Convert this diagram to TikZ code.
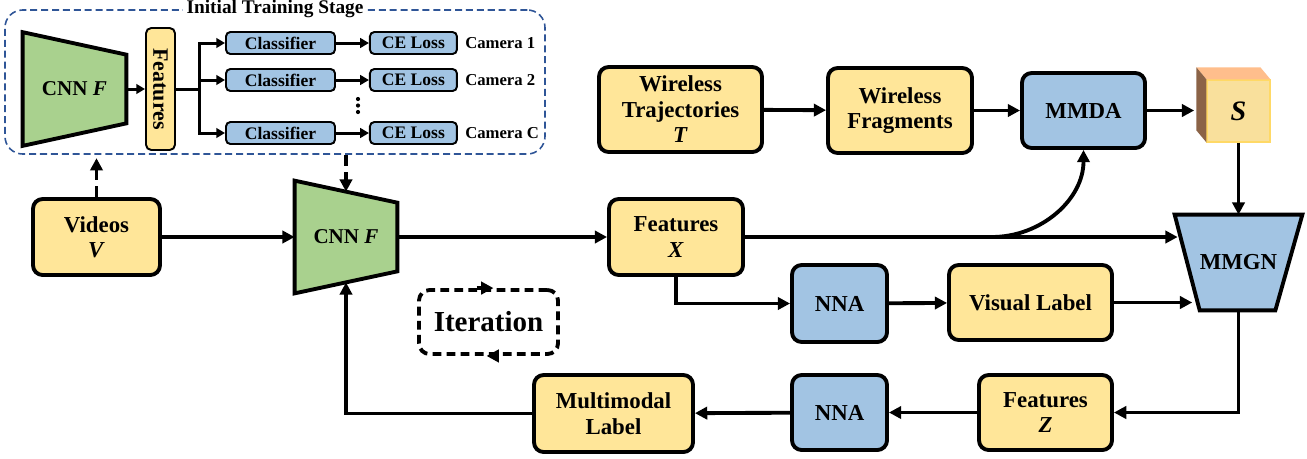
\documentclass[tikz,border=0pt]{standalone}
\usepackage{fontspec}
\setmainfont{Liberation Serif}
\usepackage{graphicx}
\usepackage{tikz}
\usetikzlibrary{positioning,arrows.meta,backgrounds}
\definecolor{boxyellow}{HTML}{FFE699}
\definecolor{boxblue}{HTML}{A2C4E3}
\definecolor{cnngreen}{HTML}{A9D18E}
\definecolor{stageblue}{HTML}{2F5597}
\definecolor{cubefront}{HTML}{F9E09C}
\definecolor{cubeedge}{HTML}{FFD966}
\definecolor{cubetop}{HTML}{FFBE8C}
\definecolor{cubeside}{HTML}{8B6347}
\newdimen\pxl
\pxl=0.02cm

\begin{document}
\begin{tikzpicture}[x=\pxl,y=\pxl,
	box/.style = {draw, line width=2.2pt, rounded corners=5.5pt, align=center, inner sep=0pt, font=\fontsize{13}{14.5}\selectfont\bfseries},
	ylw/.style = {box, fill=boxyellow},
	blu/.style = {box, fill=boxblue},
	trap/.style = {inner sep=0pt, align=center, font=\fontsize{13}{14}\selectfont\bfseries},
	small/.style = {draw, fill=boxblue, line width=1.1pt, rounded corners=2.5pt, minimum height=22*\pxl, inner sep=0pt, font=\fontsize{10}{12}\selectfont\bfseries},
	cam/.style = {inner sep=0pt, font=\fontsize{9.5}{11}\selectfont\bfseries},
	arr/.style = {line width=2.2pt, -{Triangle[length=7pt,width=7pt]}},
	sarr/.style = {line width=1.7pt, -{Triangle[length=5pt,width=5.5pt]}},
	dasharr/.style = {arr, dash pattern=on 6.5pt off 3.5pt},
	size/.style 2 args = {minimum width=#1*\pxl, minimum height=#2*\pxl}]
	\useasboundingbox (0,0) rectangle (1307,-458);

	\node[draw=stageblue,dash pattern=on 4pt off 2.2pt,line width=0.9pt,rounded corners=10pt,size={540}{144}] (stage) at (275,-82) {};
	\node[fill=white,inner sep=2pt,font=\fontsize{11}{12}\selectfont\bfseries] (stagetitle) at (stage.north) {Initial Training Stage};
	\node[trap,size={103}{113},font=\fontsize{12}{14}\selectfont\bfseries] (cnn0) at (74.5,-89) {CNN \textit{F}};
	\node[draw,fill=boxyellow,line width=1.1pt,rounded corners=3pt,size={29}{122},inner sep=0pt,font=\fontsize{12.5}{13}\selectfont\bfseries] (feat0) at (160.5,-89) {\rotatebox{-90}{Features}};
	\node[small,minimum width=109*\pxl] (cls1) at (280.5,-43) {Classifier};
	\node[small,minimum width=109*\pxl] (cls2) at (280.5,-80) {Classifier};
	\node[small,minimum width=109*\pxl] (cls3) at (280.5,-133) {Classifier};
	\node[small,minimum width=87*\pxl] (ce1) [right=0.66cm of cls1] {CE Loss};
	\node[small,minimum width=87*\pxl] (ce2) [right=0.66cm of cls2] {CE Loss};
	\node[small,minimum width=87*\pxl] (ce3) [right=0.66cm of cls3] {CE Loss};
	\node[cam] (cam1) [right=0.14cm of ce1] {Camera 1};
	\node[cam] (cam2) [right=0.14cm of ce2] {Camera 2};
	\node[cam] (cam3) [right=0.14cm of ce3] {Camera C};
	\coordinate (vdots) at (358,-99);

	\node[ylw,size={127}{76}] (videos) at (96.5,-237) {Videos\\\textit{V}};
	\node[trap,size={102}{112},font=\fontsize{12}{14}\selectfont\bfseries] (cnn) at (346,-237) {CNN \textit{F}};
	\node[ylw,size={134}{76}] (featx) at (676,-237) {Features\\\textit{X}};
	\node[ylw,size={163}{85}] (wtraj) at (680.5,-109.5) {Wireless\\Trajectories\\\textit{T}};
	\node[ylw,size={144}{85}] (wfrag) at (900,-110.5) {Wireless\\Fragments};
	\node[blu,size={123}{75}] (mmda) at (1083.5,-110.5) {MMDA};
	\node[draw=cubeedge,fill=cubefront,line width=0.6pt,size={63}{62},inner sep=0pt,font=\fontsize{16}{16}\selectfont\bfseries] (scube) at (1238.5,-111) {\textit{S}};
	\node[trap,size={127}{95}] (mmgn) at (1238.5,-262.5) {MMGN};
	\node[blu,size={95}{77}] (nna1) at (839.5,-303.5) {NNA};
	\node[ylw,size={163}{75}] (visual) at (1030.5,-302.5) {Visual Label};
	\node[ylw,size={133}{75}] (featz) at (1045.5,-412.5) {Features\\\textit{Z}};
	\node[blu,size={95}{75}] (nna2) at (839.5,-412.5) {NNA};
	\node[ylw,size={159}{77}] (mlabel) at (613.5,-413.5) {Multimodal\\Label};
	\node[draw,dash pattern=on 5pt off 3pt,line width=2.2pt,rounded corners=6pt,size={139}{64},font=\fontsize{16.5}{18}\selectfont\bfseries] (iter) at (488.5,-322) {Iteration};

	\begin{pgfonlayer}{background}
		\draw[fill=cnngreen,line width=2.2pt] (cnn0.north west)--([yshift=-22.5*\pxl]cnn0.north east)--([yshift=22.5*\pxl]cnn0.south east)--(cnn0.south west)--cycle;
		\draw[fill=cnngreen,line width=2.2pt] (cnn.north west)--([yshift=-22*\pxl]cnn.north east)--([yshift=22*\pxl]cnn.south east)--(cnn.south west)--cycle;
		\draw[fill=boxblue,line width=2.2pt] (mmgn.north west)--(mmgn.north east)--([xshift=-27*\pxl]mmgn.south east)--([xshift=25*\pxl]mmgn.south west)--cycle;
	\end{pgfonlayer}
	\fill[cubetop] (scube.north west)--++(-10,12)--([shift={(-10,12)}]scube.north east)--(scube.north east)--cycle;
	\fill[cubeside] (scube.north west)--++(-10,12)--([shift={(-10,12)}]scube.south west)--(scube.south west)--cycle;
	\foreach \d in {0,6.5,13}
		\fill ([yshift=-\d*\pxl]vdots) circle (2.1);

	\draw[sarr] (cnn0.east)--(feat0);
	\draw[sarr] (feat0.east)--++(24,0)|-(cls1);
	\draw[sarr] (feat0.east)--++(24,0)|-(cls2);
	\draw[sarr] (feat0.east)--++(24,0)|-(cls3);
	\draw[sarr] (cls1)--(ce1);
	\draw[sarr] (cls2)--(ce2);
	\draw[sarr] (cls3)--(ce3);
	\draw[dasharr,shorten >=7pt] (videos.north)--(videos.north |- cnn0.south);
	\draw[dasharr] (cnn.north |- stage.south)--([yshift=-11*\pxl]cnn.north);

	\draw[arr] (videos)--(cnn.west);
	\draw[arr] (cnn.east)--(featx);
	\draw[arr] (wtraj)--(wfrag);
	\draw[arr] (wfrag)--(mmda);
	\draw[arr,shorten >=7pt] (mmda)--(mmda -| scube.west);
	\draw[arr,shorten >=-1.7pt] (featx)--(featx -| mmgn.west);
	\draw[arr] (featx.east)--++(247,0) to[out=0,in=-90] (mmda.south);
	\draw[arr] (featx.south)|-(nna1);
	\draw[arr] (nna1)--(visual);
	\draw[arr,shorten >=-10pt] (visual)--(visual -| mmgn.west);
	\draw[arr] (scube)--(mmgn);
	\draw[arr] (mmgn.south)|-(featz);
	\draw[arr] (featz)--(nna2);
	\draw[arr] (nna2)--(mlabel);
	\draw[arr] (mlabel)-|([yshift=11*\pxl]cnn.south);
	\draw[arr] ([xshift=-12*\pxl]iter.north)--([xshift=5*\pxl]iter.north);
	\draw[arr] ([xshift=10*\pxl]iter.south)--([xshift=-2*\pxl]iter.south);
\end{tikzpicture}
\end{document}
